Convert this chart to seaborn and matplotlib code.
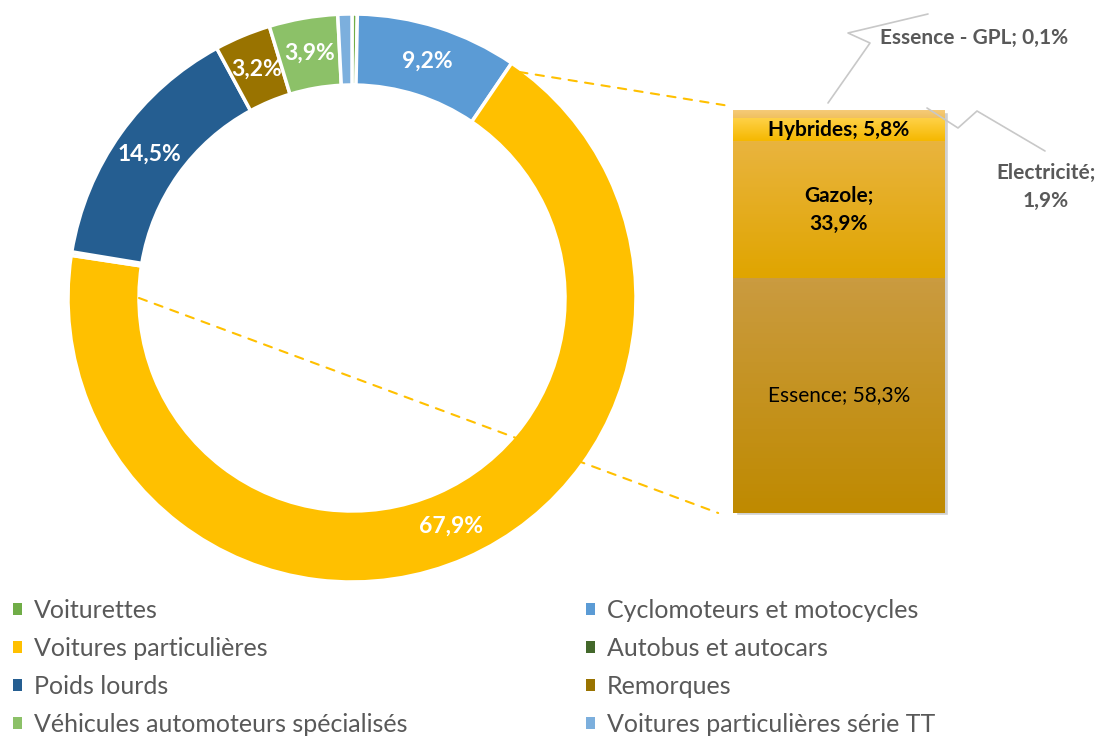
import numpy as np
import matplotlib
matplotlib.use("Agg")
import matplotlib.pyplot as plt
import seaborn as sns
from matplotlib.patches import ConnectionPatch, Patch
from matplotlib.lines import Line2D

# ---------------- data ----------------
categories = ["Voiturettes", "Cyclomoteurs et motocycles", "Voitures particulières",
              "Autobus et autocars", "Poids lourds", "Remorques",
              "Véhicules automoteurs spécialisés", "Voitures particulières série TT"]
shares = [0.3, 9.2, 67.9, 0.2, 14.5, 3.2, 3.9, 0.8]
colors = ["#70AD47", "#5B9BD5", "#FFC000", "#43682B", "#255E91", "#997300", "#8CC168", "#7CAFDD"]

fuel_labels = ["Essence", "Gazole", "Hybrides", "Electricité", "Essence - GPL"]
fuel_shares = [58.3, 33.9, 5.8, 1.9, 0.1]
fuel_top = ["#CA9B40", "#E9B43E", "#FFD24A", "#F6CB78", "#F8D58A"]
fuel_bot = ["#BF8A00", "#E0A500", "#F5B800", "#F0C060", "#F0C060"]

sns.set_theme(style="white")
plt.rcParams['font.family'] = ['Lato', 'DejaVu Sans']

W, H = 1099, 740
fig = plt.figure(figsize=(W / 100, H / 100), dpi=100)

def fx(x):
    return x / W

def fy(y):
    return 1 - y / H

# ---------------- donut ----------------
cx, cy, R = 352, 298, 284
ax = fig.add_axes([fx(cx - R), fy(cy + R), 2 * R / W, 2 * R / H])

def fmt(p):
    return (f"{p:.1f}".replace(".", ",") + "%") if p > 1.5 else ""

wedges, _, autotexts = ax.pie(
    shares, colors=colors, startangle=90, counterclock=False, radius=1,
    autopct=fmt, pctdistance=0.875,
    wedgeprops=dict(width=0.25, edgecolor="white", linewidth=2.5),
    textprops=dict(color="white", fontsize=16.5, fontweight="bold"))
ax.set_xlim(-1, 1)
ax.set_ylim(-1, 1)
ax.set_aspect("equal")
ax.axis("off")

# ---------------- stacked bar ----------------
bx = fig.add_axes([fx(733), fy(513), 212 / W, 403 / H])
bx.set_xlim(-0.5, 0.5)
bx.set_ylim(0, 100)
bx.axis("off")

# shadow
bx.bar([0.012], [sum(fuel_shares)], bottom=-0.6, width=1.0, color="#D0D0D0",
       zorder=0, clip_on=False)

bottoms = np.concatenate([[0], np.cumsum(fuel_shares)[:-1]])
for lab, val, b, ct, cb in zip(fuel_labels, fuel_shares, bottoms, fuel_top, fuel_bot):
    bars = bx.bar([0], [val], bottom=b, width=1.0, color=cb, zorder=1)
    grad = np.linspace(0, 1, 64).reshape(-1, 1)
    c0 = np.array(matplotlib.colors.to_rgb(cb))
    c1 = np.array(matplotlib.colors.to_rgb(ct))
    img = c0[None, None, :] * (1 - grad[:, :, None]) + c1[None, None, :] * grad[:, :, None]
    im = bx.imshow(img, extent=(-0.5, 0.5, b, b + val), origin="lower",
                   aspect="auto", zorder=2)
    im.set_clip_path(bars[0])

def pct(v):
    return f"{v:.1f}".replace(".", ",") + "%"

FS = 15
bx.text(0, bottoms[0] + fuel_shares[0] / 2, f"{fuel_labels[0]}; {pct(fuel_shares[0])}",
        ha="center", va="center", fontsize=FS, color="black", zorder=5)
bx.text(0, bottoms[1] + fuel_shares[1] / 2, f"{fuel_labels[1]};\n{pct(fuel_shares[1])}",
        ha="center", va="center", fontsize=FS, color="black", fontweight="bold",
        linespacing=1.5, zorder=5)
bx.text(0, bottoms[2] + fuel_shares[2] / 2, f"{fuel_labels[2]}; {pct(fuel_shares[2])}",
        ha="center", va="center", fontsize=FS, color="black", fontweight="bold", zorder=5)

# outside labels with leader lines
fig.text(fx(1046), fy(187), f"{fuel_labels[3]};\n{pct(fuel_shares[3])}", ha="center",
         va="center", fontsize=FS, color="#595959", fontweight="bold", linespacing=1.5)
fig.text(fx(880), fy(38), f"{fuel_labels[4]}; {pct(fuel_shares[4])}", ha="left",
         va="center", fontsize=FS, color="#595959", fontweight="bold")

lc = "#C8C8C8"
for pts in ([(828, 103), (870, 43), (848, 33), (928, 14)],
            [(927, 108), (958, 128), (977, 111), (1045, 151)]):
    xs = [fx(p[0]) for p in pts]
    ys = [fy(p[1]) for p in pts]
    fig.add_artist(Line2D(xs, ys, transform=fig.transFigure, color=lc, lw=1.2))

# dashed connectors
start_vp = (shares[0] + shares[1]) / 100 * 2 * np.pi + 0.04
pA = (np.sin(start_vp) * 0.99, np.cos(start_vp) * 0.99)
pB = (-0.75, 0.0)
for xyA, xyB in ((pA, (-0.54, 101.2)), (pB, (-0.57, 0.0))):
    con = ConnectionPatch(xyA=xyA, coordsA=ax.transData, xyB=xyB, coordsB=bx.transData,
                          color="#FFC000", lw=1.5, linestyle=(0, (4, 4)))
    fig.add_artist(con)

# ---------------- legend ----------------
handles = [Patch(facecolor=c, edgecolor="none") for c in colors]
left_idx = [0, 2, 4, 6]
right_idx = [1, 3, 5, 7]
common = dict(frameon=False, fontsize=18, handlelength=0.34, handleheight=0.34,
              handletextpad=0.5, labelspacing=0.6, labelcolor="#595959",
              borderaxespad=0, borderpad=0)
leg1 = fig.legend([handles[i] for i in left_idx], [categories[i] for i in left_idx],
                  loc="upper left", bbox_to_anchor=(fx(13), fy(599)), **common)
leg2 = fig.legend([handles[i] for i in right_idx], [categories[i] for i in right_idx],
                  loc="upper left", bbox_to_anchor=(fx(586), fy(599)), **common)

fig.savefig("out.png", dpi=100)
